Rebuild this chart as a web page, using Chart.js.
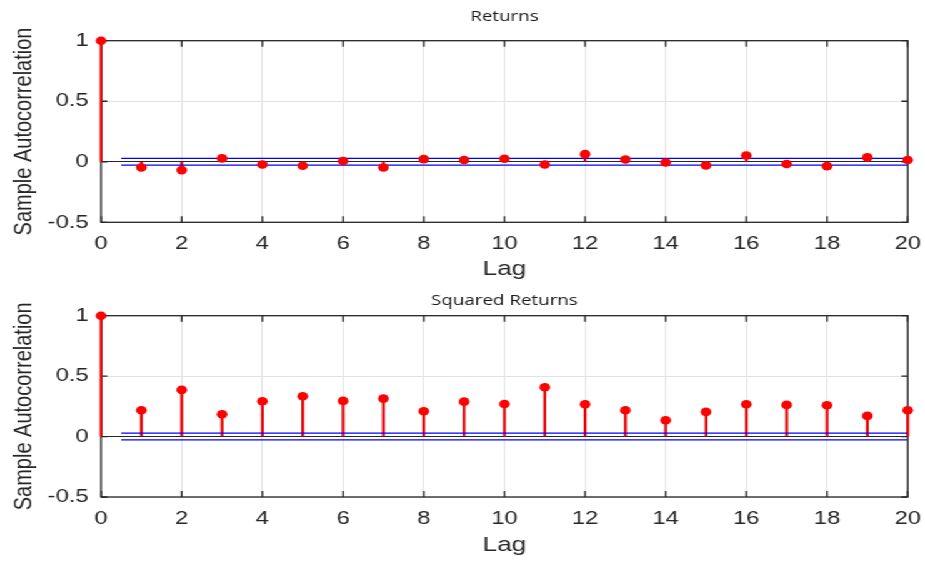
<!DOCTYPE html>
<html>
<head>
<meta charset="utf-8">
<title>Sample Autocorrelation</title>
<script src="https://cdn.jsdelivr.net/npm/chart.js@4.4.1/dist/chart.umd.min.js"></script>
<style>
  html, body { margin: 0; padding: 0; background: #fff; overflow: hidden; }
  /* source figure is stretched ~1.25x sideways, so draw narrow and stretch */
  #wrap { position: absolute; left: 0; top: 0; width: 740px; height: 563px; transform: scaleX(1.25); transform-origin: 0 0; }
  .box { position: absolute; left: 0; width: 740px; }
  #box1 { top: 0; height: 282px; }
  #box2 { top: 282px; height: 281px; }
</style>
</head>
<body>
<div id="wrap">
  <div class="box" id="box1"><canvas id="acf1"></canvas></div>
  <div class="box" id="box2"><canvas id="acf2"></canvas></div>
</div>
<script>
  // ===== Data =====
  const lags = [0, 1, 2, 3, 4, 5, 6, 7, 8, 9, 10, 11, 12, 13, 14, 15, 16, 17, 18, 19, 20];
  const returnsAcf = [1, -0.047, -0.069, 0.028, -0.022, -0.033, 0.006, -0.047, 0.022, 0.014, 0.025,
                      -0.022, 0.063, 0.019, -0.006, -0.030, 0.052, -0.019, -0.036, 0.036, 0.014];
  const squaredAcf = [1, 0.218, 0.386, 0.185, 0.292, 0.333, 0.295, 0.314, 0.209, 0.289, 0.270,
                      0.408, 0.267, 0.218, 0.135, 0.204, 0.267, 0.262, 0.259, 0.171, 0.218];
  const boundLags = [0.5, 20];
  const returnsBound = 0.028;
  const squaredBound = 0.028;
  const xTicks = [0, 2, 4, 6, 8, 10, 12, 14, 16, 18, 20];
  const yTicks = [-0.5, 0, 0.5, 1];
  const yTickLabels = ["-0.5", "0", "0.5", "1"];

  const axisFont = "'Liberation Sans', Arial, sans-serif";
  const inkColor = "#262626";
  const gridColor = "#e2e2e2";

  // ===== Box + inward ticks (matlab style) =====
  const framePlugin = {
    id: "frame",
    beforeDatasetsDraw(chart) {
      const { ctx, chartArea: a, scales: { x, y } } = chart;
      ctx.save();
      ctx.strokeStyle = inkColor;
      ctx.lineWidth = 1.3;
      ctx.beginPath();
      x.ticks.forEach(t => {
        let px = x.getPixelForValue(t.value);
        ctx.moveTo(px, a.bottom); ctx.lineTo(px, a.bottom - 6);
        ctx.moveTo(px, a.top); ctx.lineTo(px, a.top + 6);
      });
      y.ticks.forEach(t => {
        let py = y.getPixelForValue(t.value);
        ctx.moveTo(a.left, py); ctx.lineTo(a.left + 5, py);
        ctx.moveTo(a.right, py); ctx.lineTo(a.right - 5, py);
      });
      ctx.stroke();
      ctx.strokeRect(a.left, a.top, a.right - a.left, a.bottom - a.top);
      ctx.restore();
    }
  };

  function makeAcfChart(id, title, values, bound, lay) {
    let points = lags.map((l, i) => ({ x: l, y: values[i] }));
    return new Chart(document.getElementById(id), {
      type: "bar",
      data: {
        datasets: [
          {
            type: "line", label: "ACF", data: points, showLine: false,
            pointRadius: 4.3, pointBackgroundColor: "#ff0000", pointBorderColor: "#ff0000",
            pointBorderWidth: 0, clip: false, order: 0
          },
          {
            type: "line", label: "Upper bound", data: boundLags.map(l => ({ x: l, y: bound })),
            borderColor: "#0000ff", borderWidth: 1.2, pointRadius: 0, order: 1
          },
          {
            type: "line", label: "Lower bound", data: boundLags.map(l => ({ x: l, y: -bound })),
            borderColor: "#0000ff", borderWidth: 1.2, pointRadius: 0, order: 1
          },
          {
            type: "bar", label: "Stems", data: points, backgroundColor: "#e80000",
            barThickness: 1.6, clip: false, order: 2
          }
        ]
      },
      options: {
        responsive: true,
        maintainAspectRatio: false,
        animation: false,
        layout: { padding: 0 },
        plugins: { legend: { display: false }, tooltip: { enabled: false } },
        scales: {
          x: {
            type: "linear", position: "bottom", min: 0, max: 20, offset: false,
            afterBuildTicks: s => { s.ticks = xTicks.map(v => ({ value: v })); },
            afterFit: s => { s.height = lay.xHeight; s.paddingLeft = 0; s.paddingRight = 13.8; },
            grid: { offset: false, color: gridColor, lineWidth: 1, drawTicks: false },
            border: { display: false },
            ticks: { padding: lay.xTickPad, color: inkColor, maxRotation: 0, autoSkip: false,
                     font: { family: axisFont, size: 19 } },
            title: { display: true, text: "Lag", color: inkColor,
                     font: { family: axisFont, size: 21 }, padding: { top: 0, bottom: lay.lagPad } }
          },
          top: {
            type: "linear", position: "top",
            afterFit: s => { s.height = lay.topHeight; s.paddingLeft = 0; s.paddingRight = 0; },
            grid: { display: false }, border: { display: false }, ticks: { display: false },
            title: { display: true, text: title, color: "#1a1a1a",
                     font: { family: "'Open Sans', sans-serif", size: 15 },
                     padding: { top: lay.titlePad, bottom: 0 } }
          },
          y: {
            type: "linear", position: "left", min: -0.5, max: 1,
            afterBuildTicks: s => { s.ticks = yTicks.map(v => ({ value: v })); },
            afterFit: s => { s.width = 80.8; },
            grid: {
              color: c => (c.tick && c.tick.value === 0 ? inkColor : gridColor),
              lineWidth: 1, drawTicks: false
            },
            border: { display: false },
            ticks: { padding: 10, color: inkColor, font: { family: axisFont, size: 19 },
                     callback: v => yTickLabels[yTicks.indexOf(v)] },
            title: { display: true, text: "Sample Autocorrelation", color: inkColor,
                     font: { family: axisFont, size: 20 }, padding: { top: 7.2, bottom: 0 } }
          }
        }
      },
      plugins: [framePlugin]
    });
  }

  makeAcfChart("acf1", "Returns", returnsAcf, returnsBound,
    { topHeight: 40.7, xHeight: 59.7, xTickPad: 10, lagPad: 0, titlePad: 7.3 });
  makeAcfChart("acf2", "Squared Returns", squaredAcf, squaredBound,
    { topHeight: 33.7, xHeight: 66, xTickPad: 10, lagPad: 5.4, titlePad: 10 });
</script>
</body>
</html>
